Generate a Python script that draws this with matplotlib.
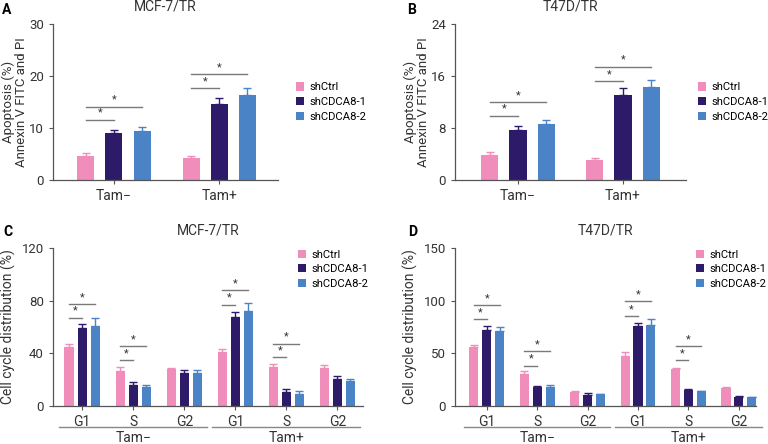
import matplotlib.pyplot as plt
import numpy as np

SERIES = ["shCtrl", "shCDCA8-1", "shCDCA8-2"]
COLORS = ["#F08DBA", "#2D1B69", "#4A84C7"]

# Apoptosis panels (A, B): groups Tam-, Tam+
apo_groups = ["Tam\u2212", "Tam+"]
apo_mcf_mean = [[4.7, 9.0, 9.4], [4.2, 14.7, 16.4]]
apo_mcf_err = [[0.45, 0.65, 0.8], [0.45, 1.1, 1.25]]
apo_mcf_sig = [[11.6, 14.1], [17.7, 20.4]]

apo_t47_mean = [[3.9, 7.7, 8.65], [3.05, 13.1, 14.3]]
apo_t47_err = [[0.35, 0.6, 0.55], [0.3, 1.0, 1.1]]
apo_t47_sig = [[9.9, 12.0], [15.25, 17.45]]

# Cell cycle panels (C, D): phases within Tam-, Tam+
cc_phases = ["G1", "S", "G2", "G1", "S", "G2"]
cc_mcf_mean = [[45, 59, 61], [26.5, 16.3, 14.2], [28, 24.9, 24.9],
               [41, 67.9, 72], [29.7, 10.9, 9.2], [28.7, 20.8, 19.3]]
cc_mcf_err = [[2.0, 3.0, 5.6], [3.3, 1.7, 1.6], [1.2, 2.6, 2.1],
              [2.2, 3.3, 6.0], [2.1, 2.3, 2.0], [2.3, 1.8, 1.3]]
cc_mcf_sig = {0: [67, 77.3], 1: [34.6, 45.3], 3: [77, 88], 4: [37.1, 47.3]}

cc_t47_mean = [[55.9, 71.8, 70.9], [30.8, 17.8, 17.8], [13, 10.2, 11.1],
               [47.7, 75.6, 76.9], [35, 14.9, 14.0], [17.2, 8.9, 8.3]]
cc_t47_err = [[1.9, 3.8, 3.8], [2.2, 1.6, 1.9], [1.3, 2.2, 0.7],
              [3.5, 3.5, 5.7], [1.5, 1.6, 0.6], [0.9, 1.0, 0.6]]
cc_t47_sig = {0: [82.6, 95.6], 1: [38.4, 51.8], 3: [85.5, 99.8], 4: [43.5, 56.6]}

plt.rcParams["font.family"] = ["Roboto", "DejaVu Sans"]
plt.rcParams["font.size"] = 9

W, H = 768, 444
fig = plt.figure(figsize=(W / 100, H / 100), dpi=100)

LEG_KW = dict(frameon=False, fontsize=8.1, handlelength=0.75, handleheight=0.75,
              handletextpad=0.45, labelspacing=0.4, borderpad=0, borderaxespad=0)


def make_ax(left, top, right, bottom):
    return fig.add_axes([left / W, 1 - bottom / H, (right - left) / W, (bottom - top) / H])


def draw_bars(ax, means, errs, off, width):
    means = np.array(means)
    errs = np.array(errs)
    x = np.arange(len(means))
    for k in range(3):
        xs = x + (k - 1) * off
        ax.bar(xs, means[:, k], width=width, color=COLORS[k], label=SERIES[k], zorder=2)
        ax.errorbar(xs, means[:, k], yerr=[np.zeros(len(x)), errs[:, k]], fmt="none",
                    ecolor=COLORS[k], elinewidth=1.0, capsize=3, capthick=1.0, zorder=1)
    return x


def draw_sig(ax, gx, levels, off, ymax):
    gap = ymax * 0.012
    for j, lvl in enumerate(levels):
        x0 = gx - off
        x1 = gx + off * j
        ax.plot([x0, x1], [lvl, lvl], color="#7a7a7a", lw=1.0, zorder=3)
        ax.text((x0 + x1) / 2, lvl + gap, "*", ha="center", va="bottom", fontsize=8, color="#333333")


def style(ax, ymax, step):
    for s in ["top", "right"]:
        ax.spines[s].set_visible(False)
    for s in ["left", "bottom"]:
        ax.spines[s].set_color("#555555")
        ax.spines[s].set_linewidth(0.9)
    ax.set_ylim(0, ymax)
    ax.set_yticks(np.arange(0, ymax + 0.01, step))
    ax.tick_params(axis="both", colors="#555555", labelcolor="#333333", labelsize=9.5, length=3)


def apoptosis_panel(ax, means, errs, sig, ymax, step, xlim, title, letter, lx, leg_x):
    off, width = 0.267, 0.162
    x = draw_bars(ax, means, errs, off, width)
    for g in range(len(x)):
        draw_sig(ax, x[g], sig[g], off, ymax)
    style(ax, ymax, step)
    ax.set_xlim(*xlim)
    ax.set_xticks(x)
    ax.set_xticklabels(apo_groups, fontsize=10)
    ax.set_ylabel("Apoptosis (%)\nAnnexin V FITC and PI", fontsize=9.5, color="#333333",
                  linespacing=0.95, labelpad=1)
    ax.set_title(title, fontsize=10, color="#333333", pad=10)
    fig.text(lx, 1 - 10 / H, letter, fontsize=10, fontweight="bold", va="center")
    ax.legend(loc="center left", bbox_to_anchor=(leg_x, 0.5), **LEG_KW)


def cycle_panel(ax, means, errs, sig, ymax, step, xlim, title, letter, lx, ly, leg_x):
    off, width = 0.255, 0.18
    x = draw_bars(ax, means, errs, off, width)
    for g, lv in sig.items():
        draw_sig(ax, x[g], lv, off, ymax)
    style(ax, ymax, step)
    ax.set_xlim(*xlim)
    ax.set_xticks(x)
    ax.set_xticklabels(cc_phases, fontsize=10)
    ax.set_ylabel("Cell cycle distribution (%)", fontsize=10, color="#333333")
    ax.set_title(title, fontsize=10, color="#333333", pad=10)
    fig.text(lx, ly, letter, fontsize=10, fontweight="bold", va="center")
    # treatment grouping lines below tick labels
    for g0, name in [(0, "Tam\u2212"), (3, "Tam+")]:
        ax.plot([x[g0] - 0.45, x[g0 + 2] + 0.45], [-0.135 * ymax] * 2, color="#888888",
                lw=1.0, clip_on=False, transform=ax.transData)
        ax.text(x[g0 + 1], -0.16 * ymax, name, ha="center", va="top", fontsize=10,
                color="#333333")
    ax.legend(loc="upper left", bbox_to_anchor=(leg_x, 0.99), **LEG_KW)


axA = make_ax(53, 24, 278, 180)
apoptosis_panel(axA, apo_mcf_mean, apo_mcf_err, apo_mcf_sig, 30, 10, (-0.58, 1.56),
                "MCF-7/TR", "A", 2 / W, 1.08)

axB = make_ax(455, 24, 686, 180)
apoptosis_panel(axB, apo_t47_mean, apo_t47_err, apo_t47_sig, 24, 8, (-0.6, 1.6),
                "T47D/TR", "B", 407 / W, 1.05)

axC = make_ax(53, 248, 363, 406)
cycle_panel(axC, cc_mcf_mean, cc_mcf_err, cc_mcf_sig, 120, 40, (-0.57, 5.5),
            "MCF-7/TR", "C", 3 / W, 1 - 232 / H, 0.79)

axD = make_ax(455, 248, 756, 406)
cycle_panel(axD, cc_t47_mean, cc_t47_err, cc_t47_sig, 150, 50, (-0.63, 5.34),
            "T47D/TR", "D", 408 / W, 1 - 232 / H, 0.80)

fig.savefig("out.png", dpi=100)
